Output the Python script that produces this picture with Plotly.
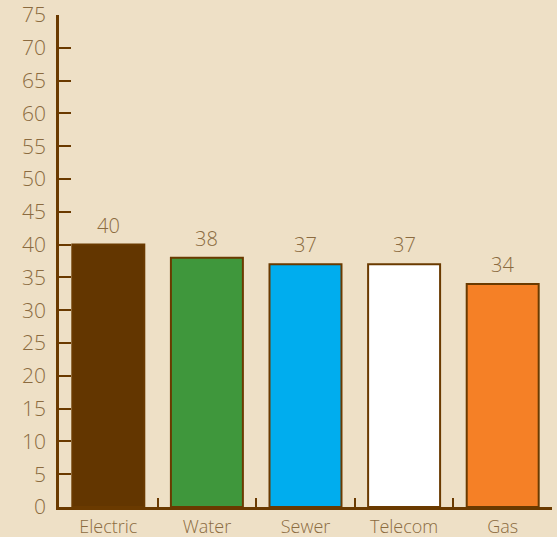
import plotly.graph_objects as go

categories = ["Electric", "Water", "Sewer", "Telecom", "Gas"]
values = [40, 38, 37, 37, 34]
bar_colors = ["#633600", "#3f973c", "#00adee", "#ffffff", "#f58026"]
y_ticks = list(range(0, 80, 5))

axis_brown = "#6a3a00"
text_brown = "#8b6b40"
bg = "#eee0c6"
font_family = "Open Sans"

fig = go.Figure(
    go.Bar(
        x=categories,
        y=values,
        marker=dict(color=bar_colors, line=dict(color=axis_brown, width=2)),
        cliponaxis=False,
    )
)

# value labels above each bar
for cat, val in zip(categories, values):
    fig.add_annotation(
        x=cat,
        y=val,
        text=str(val),
        showarrow=False,
        yanchor="bottom",
        yshift=4,
        font=dict(family=font_family, color=text_brown, size=20, weight=300),
    )

fig.update_layout(
    width=557,
    height=537,
    margin=dict(l=59, r=5, t=15, b=30),
    paper_bgcolor=bg,
    plot_bgcolor=bg,
    bargap=0.27,
    showlegend=False,
    font=dict(family=font_family, color=text_brown, size=19, weight=300),
)

fig.update_xaxes(
    automargin=False,
    showgrid=False,
    showline=True,
    linecolor=axis_brown,
    linewidth=2.5,
    ticks="inside",
    tickson="boundaries",
    ticklen=9,
    tickwidth=2,
    tickcolor=axis_brown,
    tickfont=dict(family=font_family, size=18, color=text_brown, weight=300),
    ticklabelstandoff=2,
)

fig.update_yaxes(
    automargin=False,
    range=[0, 75],
    tickvals=y_ticks,
    showgrid=False,
    zeroline=False,
    showline=True,
    linecolor=axis_brown,
    linewidth=2.5,
    ticks="inside",
    ticklen=12,
    tickwidth=2,
    tickcolor=axis_brown,
    tickfont=dict(family=font_family, size=21, color=text_brown, weight=300),
    ticklabelstandoff=6,
)

fig.write_html("out.html")
